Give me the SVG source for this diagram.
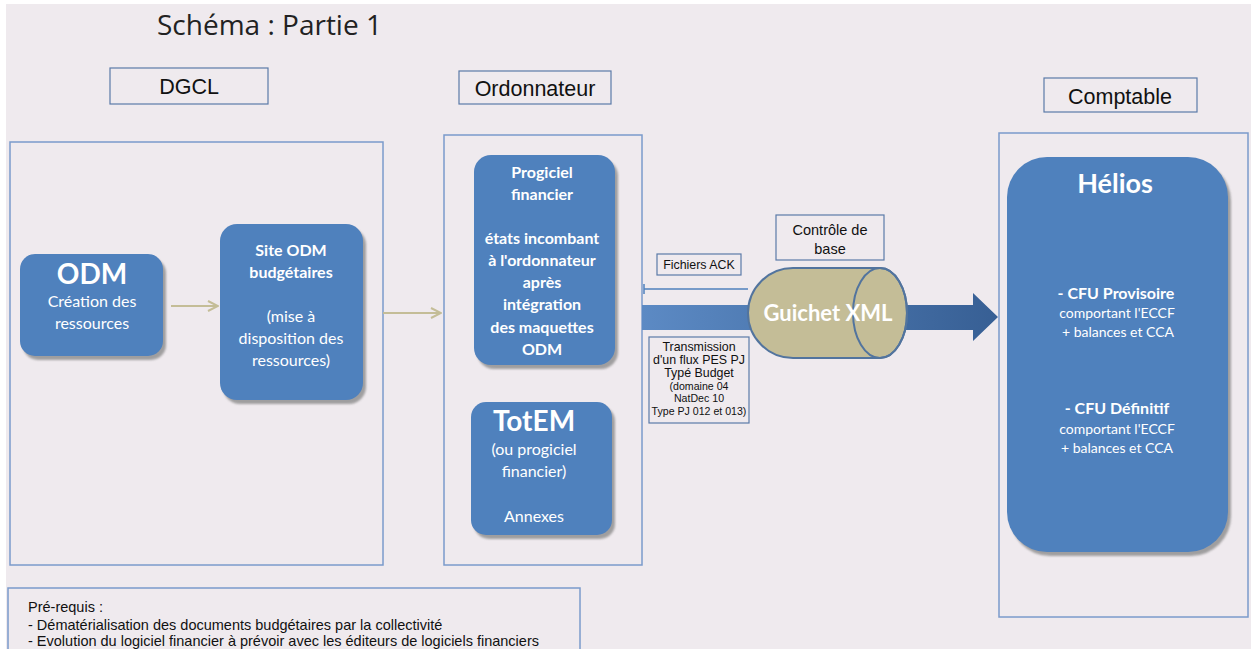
<svg xmlns="http://www.w3.org/2000/svg" width="1251" height="649" viewBox="0 0 1251 649">
<defs>
<style>
.bg{fill:#efeaee}
.cont{fill:none;stroke:#7b9bcb;stroke-width:1.5}
.lbl{fill:none;stroke:#5a7aa8;stroke-width:1.2}
.node{fill:#4f81bd}
.shadow{fill:#8c8c8c;opacity:0.8}
.t{font-family:Lato,"Open Sans","Liberation Sans",sans-serif;fill:#ffffff;text-anchor:middle}
.b{font-weight:bold}
.a{font-family:"Liberation Sans",Arial,sans-serif;fill:#111111}
.c{text-anchor:middle}
.conn{stroke:#c4bd97;stroke-width:2;fill:none}
</style>
<filter id="blur" x="-10%" y="-10%" width="120%" height="120%"><feGaussianBlur stdDeviation="1.2"/></filter>
<marker id="chev" viewBox="0 0 12 12" refX="11" refY="6" markerWidth="12" markerHeight="12" markerUnits="userSpaceOnUse" orient="auto">
<path d="M1,1 L11,6 L1,11" fill="none" stroke="#c4bd97" stroke-width="2"/>
</marker>
<marker id="ack" viewBox="0 0 6 10" refX="1" refY="5" markerWidth="6" markerHeight="10" markerUnits="userSpaceOnUse" orient="auto">
<path d="M1,0 L1,10" stroke="#4f81bd" stroke-width="1.5"/>
</marker>
<linearGradient id="flow" x1="0" y1="0" x2="1" y2="0">
<stop offset="0" stop-color="#5c8ac4"/>
<stop offset="1" stop-color="#375f94"/>
</linearGradient>
</defs>
<rect x="0" y="0" width="1251" height="649" fill="#ffffff"/>
<rect class="bg" x="6" y="4" width="1245" height="645"/>

<text x="157" y="35" font-family="'Open Sans','Liberation Sans',sans-serif" font-size="28" fill="#222">Schéma : Partie 1</text>

<!-- containers -->
<g id="dgcl-lane">
<rect class="cont" x="10" y="142" width="373" height="423"/>
<rect class="lbl" x="110" y="68" width="158" height="36"/>
<text class="a c" x="189" y="94" font-size="21.5">DGCL</text>
</g>
<g id="ordonnateur-lane">
<rect class="cont" x="444" y="135" width="198" height="430"/>
<rect class="lbl" x="459" y="71" width="152" height="33"/>
<text class="a c" x="535" y="96" font-size="21.5">Ordonnateur</text>
</g>
<g id="comptable-lane">
<rect class="cont" x="999" y="133" width="249" height="484"/>
<rect class="lbl" x="1044" y="78" width="153" height="34"/>
<text class="a c" x="1120" y="104" font-size="21.5">Comptable</text>
</g>

<!-- connectors -->
<g id="connectors">
<line class="conn" x1="171" y1="306" x2="218" y2="306" marker-end="url(#chev)"/>
<line class="conn" x1="383" y1="313" x2="441" y2="313" marker-end="url(#chev)"/>
<path d="M642,305 L973,305 L973,293 L998,317 L973,341 L973,330 L642,330 Z" fill="url(#flow)"/>
<line x1="644" y1="289" x2="748" y2="289" stroke="#4f81bd" stroke-width="1.5" marker-start="url(#ack)"/>
</g>

<g id="odm">
<rect class="shadow" x="23" y="258" width="143" height="102" rx="15" filter="url(#blur)"/>
<rect class="node" x="20" y="254" width="143" height="102" rx="15"/>
<text class="t b" x="92" y="284" font-size="28">ODM</text>
<text class="t" x="92" y="307" font-size="16">Création des</text>
<text class="t" x="92" y="329" font-size="16">ressources</text>
</g>

<g id="site-odm">
<rect class="shadow" x="223" y="228" width="143" height="176" rx="17" filter="url(#blur)"/>
<rect class="node" x="220" y="224" width="143" height="176" rx="17"/>
<text class="t b" x="291" y="256" font-size="16">Site ODM</text>
<text class="t b" x="291" y="278" font-size="16">budgétaires</text>
<text class="t" x="291" y="322" font-size="16">(mise à</text>
<text class="t" x="291" y="344" font-size="16">disposition des</text>
<text class="t" x="291" y="366" font-size="16">ressources)</text>
</g>

<g id="progiciel">
<rect class="shadow" x="477" y="159" width="141" height="210" rx="17" filter="url(#blur)"/>
<rect class="node" x="474" y="155" width="141" height="210" rx="17"/>
<text class="t b" x="542" y="178" font-size="16">Progiciel</text>
<text class="t b" x="542" y="200" font-size="16">financier</text>
<text class="t b" x="542" y="244" font-size="16">états incombant</text>
<text class="t b" x="542" y="266" font-size="16">à l'ordonnateur</text>
<text class="t b" x="542" y="288" font-size="16">après</text>
<text class="t b" x="542" y="310" font-size="16">intégration</text>
<text class="t b" x="542" y="333" font-size="16">des maquettes</text>
<text class="t b" x="542" y="355" font-size="16">ODM</text>
</g>

<g id="totem">
<rect class="shadow" x="474" y="406" width="141" height="133" rx="15" filter="url(#blur)"/>
<rect class="node" x="471" y="402" width="141" height="133" rx="15"/>
<text class="t b" x="534" y="431" font-size="28">TotEM</text>
<text class="t" x="534" y="455" font-size="16">(ou progiciel</text>
<text class="t" x="534" y="477" font-size="16">financier)</text>
<text class="t" x="534" y="522" font-size="16">Annexes</text>
</g>

<g id="helios">
<rect class="shadow" x="1010" y="161" width="221" height="395" rx="40" filter="url(#blur)"/>
<rect class="node" x="1007" y="157" width="221" height="395" rx="40"/>
<text class="t b" x="1115" y="193" font-size="27">Hélios</text>
<text class="t b" x="1116" y="299" font-size="16">- CFU Provisoire</text>
<text class="t" x="1117" y="318" font-size="14">comportant l'ECCF</text>
<text class="t" x="1118" y="337" font-size="14">+ balances et CCA</text>
<text class="t b" x="1117" y="414" font-size="16">- CFU Définitif</text>
<text class="t" x="1117" y="434" font-size="14">comportant l'ECCF</text>
<text class="t" x="1117" y="453" font-size="14">+ balances et CCA</text>
</g>

<g id="guichet-xml">
<path d="M793,268 L880,268 A27,45 0 0 1 880,358 L793,358 A45,45 0 0 1 793,268 Z" fill="#c4bd97" stroke="#52749e" stroke-width="2"/>
<ellipse cx="880" cy="313" rx="27" ry="45" fill="none" stroke="#52749e" stroke-width="2"/>
<text class="t b" x="828" y="321" font-size="22">Guichet XML</text>
</g>

<g id="controle">
<rect class="lbl" x="776" y="215" width="108" height="45" fill="none"/>
<text class="a c" x="830" y="235" font-size="14.5">Contrôle de</text>
<text class="a c" x="830" y="254" font-size="14.5">base</text>
</g>

<g id="fichiers-ack">
<rect class="lbl" x="657" y="254" width="84" height="21"/>
<text class="a c" x="699" y="269" font-size="12.4">Fichiers ACK</text>
</g>

<g id="transmission">
<rect class="lbl" x="649" y="337" width="100" height="86"/>
<text class="a c" x="699" y="351" font-size="12.4">Transmission</text>
<text class="a c" x="699" y="364" font-size="12.4">d'un flux PES PJ</text>
<text class="a c" x="699" y="377" font-size="12.4">Typé  Budget</text>
<text class="a c" x="699" y="390" font-size="10.6">(domaine 04</text>
<text class="a c" x="699" y="402" font-size="10.6">NatDec 10</text>
<text class="a c" x="699" y="415" font-size="10.6">Type PJ 012 et 013)</text>
</g>

<g id="prerequis">
<rect class="cont" x="8" y="588" width="572" height="80"/>
<text class="a" x="28" y="612" font-size="14.5">Pré-requis :</text>
<text class="a" x="28" y="630" font-size="14.5">- Dématérialisation des documents budgétaires par la collectivité</text>
<text class="a" x="28" y="646" font-size="14.5">- Evolution du logiciel financier à prévoir avec les éditeurs de logiciels financiers</text>
</g>
</svg>
